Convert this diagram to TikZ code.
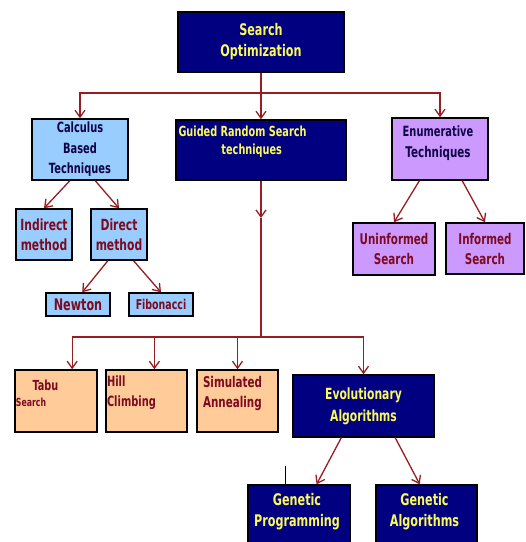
\documentclass[tikz,border=0pt]{standalone}
\usepackage{fontspec}
\newfontfamily\boxfont{DejaVu Sans}[FakeStretch=0.7]
\usepackage{tikz}
\usetikzlibrary{positioning,arrows.meta,calc}
\definecolor{cnavy}{RGB}{0,0,128}
\definecolor{cyel}{RGB}{250,250,90}
\definecolor{cblue}{RGB}{153,204,255}
\definecolor{clav}{RGB}{204,153,255}
\definecolor{cpeach}{RGB}{255,204,153}
\definecolor{cline}{RGB}{150,30,35}
\definecolor{cdred}{RGB}{125,10,30}
\definecolor{ctxt}{RGB}{15,5,70}

\begin{document}
\begin{tikzpicture}[
  x=1pt,y=1pt,
  font=\boxfont\bfseries,
  % the boxes: one fill per family of methods
  box/.style={draw=black,line width=1.4pt,inner sep=1pt,align=center},
  navybox/.style={box,fill=cnavy,text=cyel},
  bluebox/.style={box,fill=cblue},
  lavbox/.style={box,fill=clav},
  peachbox/.style={box,fill=cpeach},
  txt/.style={inner sep=0pt,align=center},
  fs/.style 2 args={font=\boxfont\bfseries\fontsize{#1}{#2}\selectfont},
  ln/.style={cline,line width=1.3pt},
  arr/.style={ln,-{Straight Barb[length=7pt,width=10pt]}},
]
\useasboundingbox (0,0) rectangle (526,542);
\clip (0,0) rectangle (526,542);

% =========== root ===========================================================
\node[navybox,minimum width=166,minimum height=60,fs={16}{21}] (so) at (261,500) {Search\\Optimization};

% =========== first level ====================================================
\node[bluebox,minimum width=96,minimum height=61,fs={14.1}{20.5},text=ctxt] (calc) at (80,392.5) {Calculus\\Based\\Techniques};
\node[navybox,minimum width=170,minimum height=60] (grs) at (261,392) {};
\node[txt,align=left,anchor=north west,fs={13.9}{18},text=cyel] (grs-t) at ([shift={(3,-6.8)}]grs.north west) {Guided Random Search\\\hspace*{43pt}techniques};
\node[lavbox,minimum width=96,minimum height=62] (enum) at (440,393) {};
\node[txt,fs={14.8}{21},text=ctxt] (enum-t) at ([shift={(-2,6)}]enum.center) {{\fontsize{14.1}{21}\selectfont Enumerative}\\Techniques};

% calculus branch
\node[bluebox,minimum width=56,minimum height=51,fs={15.4}{20},text=cdred] (ind) at (44,307.5) {Indirect\\method};
\node[bluebox,minimum width=56,minimum height=51,fs={15.4}{20},text=cdred] (dir) at (119,307.5) {Direct\\method};
\node[bluebox,minimum width=64,minimum height=23,fs={16}{15},text=cdred] (newton) at (78,237.5) {Newton};
\node[bluebox,minimum width=64,minimum height=23,fs={13.5}{13},text=cdred] (fib) at (161,237.5) {Fibonacci};

% enumerative branch
\node[lavbox,minimum width=82,minimum height=52,fs={14.8}{20},text=cdred] (unin) at (394,293) {Uninformed\\Search};
\node[lavbox,minimum width=78,minimum height=51,fs={14.8}{20},text=cdred] (inf) at (485,293.5) {Informed\\Search};

% =========== guided random search branch ====================================
\node[peachbox,minimum width=82,minimum height=62] (tabu) at (56,141) {};
\node[txt,anchor=base west,fs={13.9}{13},text=cdred] (tabu-a) at ([shift={(18,-21.7)}]tabu.north west) {Tabu};
\node[txt,anchor=base west,fs={11.1}{11},text=cdred] (tabu-b) at ([shift={(1.5,-37.7)}]tabu.north west) {Search};
\node[peachbox,minimum width=81,minimum height=62] (hill) at (146.5,141) {};
\node[txt,align=left,anchor=north west,fs={14.1}{20},text=cdred] (hill-t) at ([shift={(1.5,-6.3)}]hill.north west) {Hill\\Climbing};
\node[peachbox,minimum width=81,minimum height=62] (sa) at (237.5,141) {};
\node[txt,align=left,anchor=north west,fs={14.8}{20},text=cdred] (sa-t) at ([shift={(6.5,-7.1)}]sa.north west) {Simulated\\Annealing};
\node[navybox,minimum width=141,minimum height=62,fs={15.4}{22}] (ea) at (363.5,136) {Evolutionary\\Algorithms};

\node[navybox,minimum width=102,minimum height=62] (gp) at (299,26) {};
\node[txt,anchor=north,fs={16}{21},text=cyel] (gp-t) at ([shift={(-2,-8.8)}]gp.north) {Genetic\\Programming};
\node[navybox,minimum width=101,minimum height=62] (ga) at (426.5,26) {};
\node[txt,anchor=north,fs={16}{21},text=cyel] (ga-t) at ([shift={(-2,-8.8)}]ga.north) {Genetic\\Algorithms};

% =========== connectors =====================================================
\coordinate (jtop) at (261,449);
\draw[ln] (so.south) -- (jtop);
\draw[arr] (jtop) -| (calc.north);
\draw[arr] (jtop) -- (grs.north);
\draw[arr] (jtop) -| (enum.north);

\draw[arr] (calc.252) -- (ind.north);
\draw[arr] (calc.296) -- (dir.north);
\draw[arr] (dir.247) -- (newton.71);
\draw[arr] (dir.299) -- (fib.north);
\draw[arr] (enum.237) -- (unin.north);
\draw[arr] (enum.305) -- (inf.north);

\coordinate (gmid) at (261,324);
\coordinate (jmid) at (261,205);
\draw[arr] (grs.south) -- (gmid);
\draw[ln] (gmid) -- (jmid);
\draw[arr] (jmid) -| (tabu.63);
\draw[arr] (jmid) -| (hill.76);
\draw[arr] (jmid) -| (sa.north);
\draw[arr] (jmid) -| (ea.north);

\draw[arr] (ea.235) -- (gp.61);
\draw[arr] (ea.315.5) -- (ga.102);
\draw[black,line width=0.8pt] ([xshift=-14]gp.north) -- ++(0,18);

\end{tikzpicture}
\end{document}
